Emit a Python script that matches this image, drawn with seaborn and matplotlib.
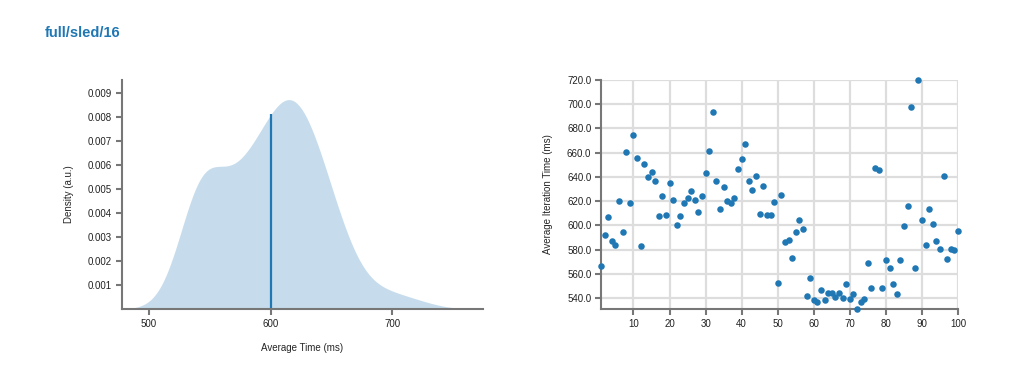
import numpy as np
import pandas as pd
import matplotlib
matplotlib.use("Agg")
import matplotlib.pyplot as plt
import seaborn as sns
from matplotlib.ticker import FormatStrFormatter

# iteration index and average iteration time (ms)
iterations = list(range(1, 101))
iter_times = [
    566.4, 591.7, 606.9, 587.0, 583.5, 619.8, 594.5, 660.5, 618.4, 674.6,
    655.6, 582.9, 650.6, 639.9, 644.0, 636.6, 607.7, 624.2, 608.5, 635.0,
    620.9, 600.0, 607.7, 618.4, 622.6, 628.3, 620.9, 611.0, 624.2, 643.2,
    661.4, 693.6, 636.6, 613.5, 631.6, 620.1, 618.4, 622.6, 646.5, 654.8,
    667.2, 636.6, 629.2, 640.7, 609.4, 632.5, 608.3, 608.3, 619.3, 552.4,
    625.0, 586.2, 588.2, 573.0, 594.5, 604.4, 597.0, 541.6, 556.5, 538.3,
    536.7, 546.6, 538.3, 544.1, 544.1, 540.8, 544.1, 540.0, 551.5, 539.2,
    543.3, 530.9, 536.7, 539.2, 568.9, 548.2, 647.3, 645.7, 548.2, 571.4,
    564.8, 551.5, 543.3, 571.4, 599.4, 615.9, 697.7, 564.8, 720.0, 604.4,
    583.7, 613.5, 601.1, 587.0, 580.4, 640.7, 572.2, 580.4, 579.6, 595.3,
]
title = "full/sled/16"
density_yticks = [0.001, 0.002, 0.003, 0.004, 0.005, 0.006, 0.007, 0.008, 0.009]
time_xticks = [500, 600, 700]
iter_xticks = [10, 20, 30, 40, 50, 60, 70, 80, 90, 100]
iter_yticks = [540, 560, 580, 600, 620, 640, 660, 680, 700, 720]

df = pd.DataFrame({"iteration": iterations, "time": iter_times})

sns.set_theme(style="white")
plt.rcParams['font.family'] = ['Liberation Sans', 'DejaVu Sans']

BLUE = "#1f77b4"
SPINE = "#777777"
BW_ADJUST = 1.08

fig = plt.figure(figsize=(10.17, 3.75), dpi=100)
ax1 = fig.add_axes([0.1197, 0.176, 0.355, 0.611])
ax2 = fig.add_axes([0.591, 0.176, 0.351, 0.611])

fig.text(0.044, 0.912, title, color=BLUE, fontsize=10.5, fontweight="bold",
         ha="left", va="center")

# left: kde of the iteration times, line at the mean
sns.kdeplot(data=df, x="time", ax=ax1, fill=True, color=BLUE, alpha=0.25,
            linewidth=0, gridsize=300, bw_adjust=BW_ADJUST, cut=6)
vals = np.array(iter_times)
bw = BW_ADJUST * vals.std(ddof=1) * len(vals) ** (-1 / 5)
mean = vals.mean()
dens_at_mean = np.mean(np.exp(-0.5 * ((mean - vals) / bw) ** 2)) / (bw * np.sqrt(2 * np.pi))
ax1.vlines(mean, 0, dens_at_mean, color=BLUE, linewidth=1.6)
ax1.set_xlim(477.5, 774.6)
ax1.set_ylim(0, 0.00953)
ax1.set_xticks(time_xticks)
ax1.set_yticks(density_yticks)
ax1.set_xlabel("Average Time (ms)", fontsize=7, labelpad=10)
ax1.set_ylabel("Density (a.u.)", fontsize=7, labelpad=10)

# right: scatter per iteration
sns.scatterplot(data=df, x="iteration", y="time", ax=ax2, color=BLUE, s=22,
                linewidth=0, clip_on=False, zorder=3)
ax2.set_xlim(min(iterations), max(iterations))
ax2.set_ylim(min(iter_times), max(iter_times))
ax2.set_xticks(iter_xticks)
ax2.set_yticks(iter_yticks)
ax2.yaxis.set_major_formatter(FormatStrFormatter("%.1f"))
ax2.grid(True, color="#dddddd", linewidth=1.6)
ax2.set_axisbelow(True)
ax2.set_xlabel("")
ax2.set_ylabel("Average Iteration Time (ms)", fontsize=7, labelpad=10)

for ax in (ax1, ax2):
    sns.despine(ax=ax)
    for side in ("left", "bottom"):
        ax.spines[side].set_color(SPINE)
        ax.spines[side].set_linewidth(1.5)
    ax.tick_params(axis="both", direction="out", length=4, width=1.5,
                   color=SPINE, labelsize=7, labelcolor="#222222",
                   left=True, bottom=True, pad=3)

fig.savefig("out.png", dpi=100)
